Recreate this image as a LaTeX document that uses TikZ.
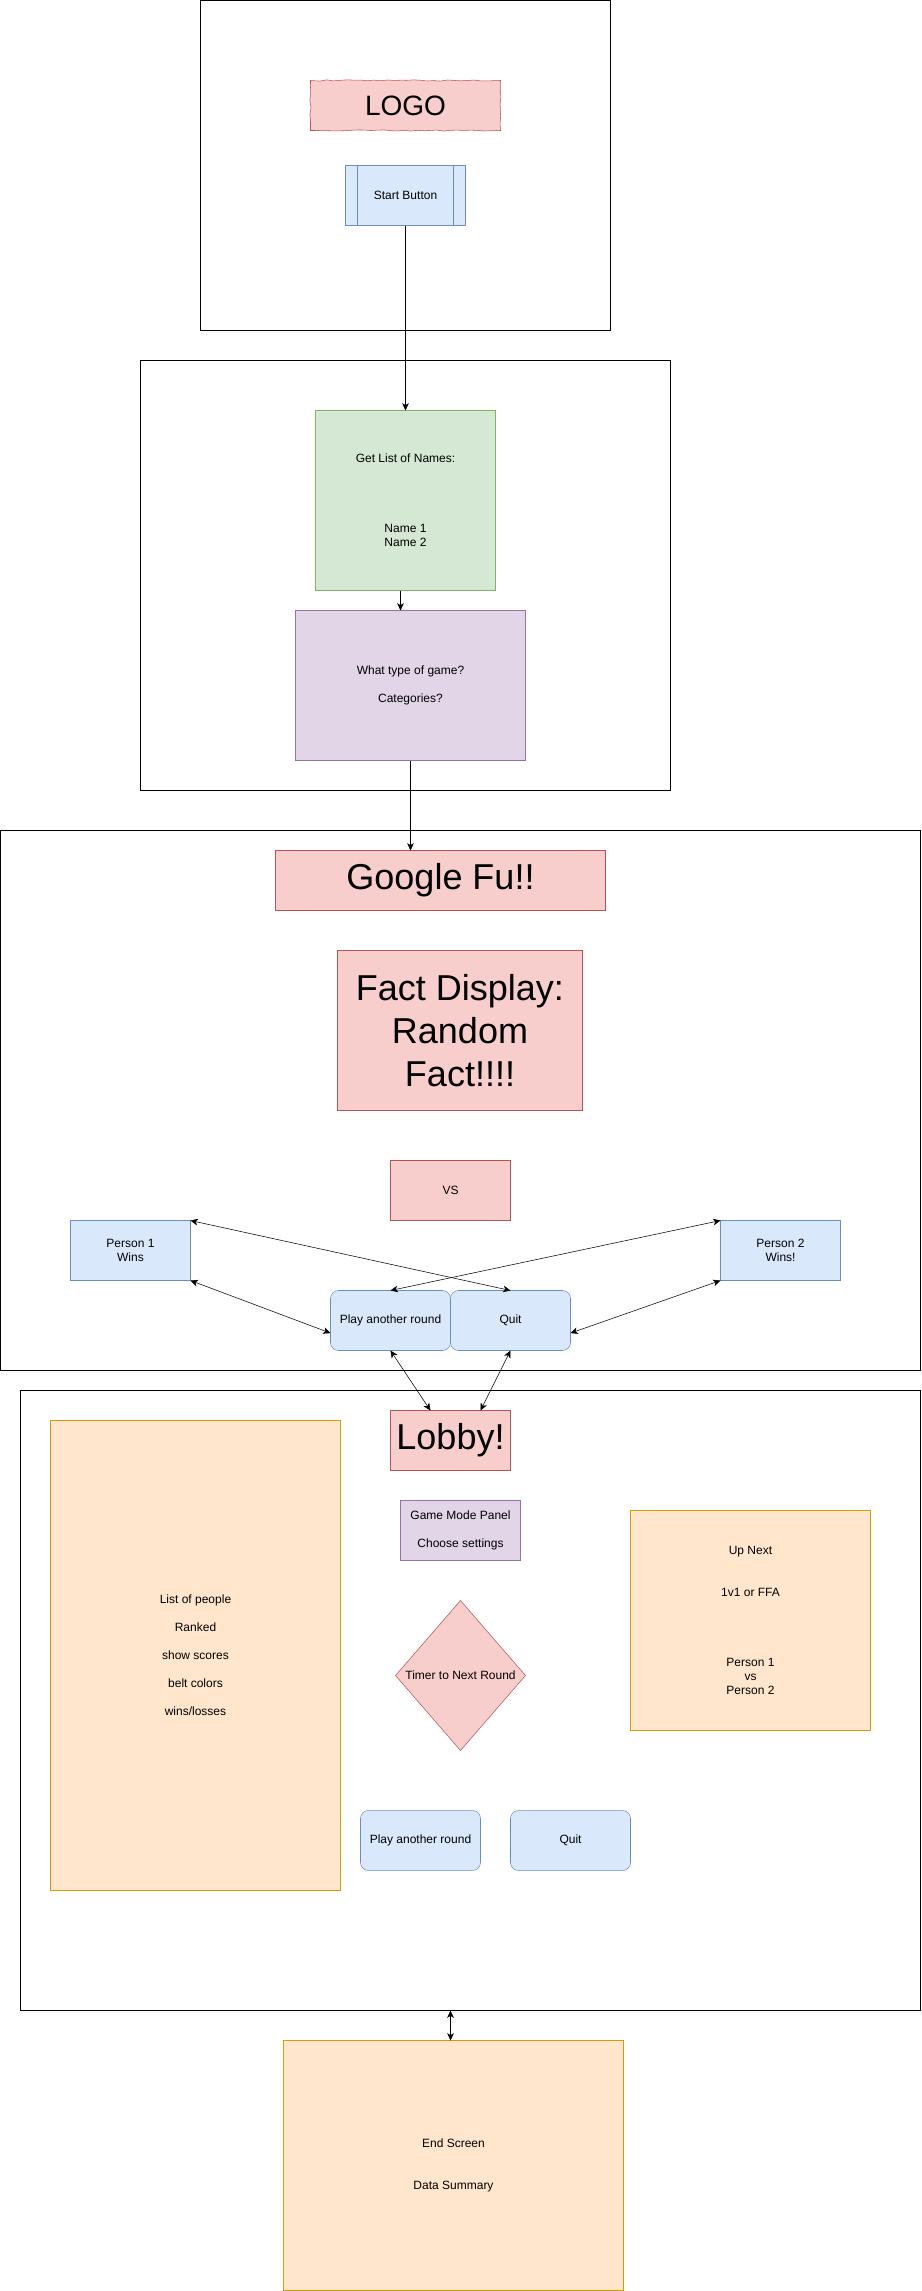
\documentclass[tikz,border=0pt]{standalone}
\usepackage{fontspec}
\setmainfont{Liberation Sans}
\usetikzlibrary{arrows.meta,shapes.geometric,decorations.pathmorphing,calc,positioning}
\definecolor{redfill}{HTML}{F8CECC}
\definecolor{redline}{HTML}{B85450}
\definecolor{bluefill}{HTML}{DAE8FC}
\definecolor{blueline}{HTML}{6C8EBF}
\definecolor{greenfill}{HTML}{D5E8D4}
\definecolor{greenline}{HTML}{82B366}
\definecolor{purplefill}{HTML}{E1D5E7}
\definecolor{purpleline}{HTML}{9673A6}
\definecolor{orangefill}{HTML}{FFE6CC}
\definecolor{orangeline}{HTML}{D79B00}
\tikzset{x=0.75pt, y=-0.75pt, % one unit is one pixel of the mockup, y goes down
>={Stealth[length=5.5pt,width=5pt,inset=1.5pt]}, % draw.io style heads
line width=0.75pt, % thin strokes everywhere
screen/.style={draw, inner sep=0pt, outer sep=0pt}, % the big screen frames
box/.style={draw, inner sep=0pt, outer sep=0pt, align=center, font=\fontsize{9}{10.5}\selectfont}, % every widget
redbox/.style={box, fill=redfill, draw=redline},
bluebox/.style={box, fill=bluefill, draw=blueline},
greenbox/.style={box, fill=greenfill, draw=greenline},
purplebox/.style={box, fill=purplefill, draw=purpleline},
orangebox/.style={box, fill=orangefill, draw=orangeline},
button/.style={bluebox, rounded corners=6pt, minimum width=90pt, minimum height=45pt}, % rounded buttons
small/.style={minimum width=90pt, minimum height=45pt}, % 120x60 widgets
big/.style={font=\fontsize{27}{32.2}\selectfont}, % headline text
sketch/.style={decorate, decoration={random steps, segment length=5pt, amplitude=0.5pt}}, % hand drawn edge
}

\begin{document}
\begin{tikzpicture}
\pgfmathsetseed{11}
\useasboundingbox (0,0) rectangle (921,2291);
% screens
\node[screen, minimum width=307.5pt, minimum height=247.5pt] (title) at (405.5,165.5) {};
\node[screen, minimum width=397.5pt, minimum height=322.5pt] (setup) at (405.5,575.5) {};
\node[screen, minimum width=690pt, minimum height=405pt] (match) at (460.5,1100.5) {};
\node[screen, minimum width=675pt, minimum height=465pt] (lobbyscr) at (470.5,1700.5) {};
% title screen
\node[redbox, sketch, minimum width=142.5pt, minimum height=37.5pt, font=\fontsize{21}{25}\selectfont] (logo) at (405.5,105.5) {LOGO};
\node[bluebox, small] (start) at (405.5,195.5) {Start Button};
\draw[blueline] ([xshift=9pt]start.north west) -- ([xshift=9pt]start.south west)
([xshift=-9pt]start.north east) -- ([xshift=-9pt]start.south east);
% setup screen
\node[greenbox, minimum width=135pt, minimum height=135pt] (names) at (405.5,500.5) {Get List of Names:\\~\\~\\~\\~\\Name 1\\Name 2};
\node[purplebox, minimum width=172.5pt, minimum height=112.5pt] (gametype) at (410.5,685.5) {What type of game?\\~\\Categories?};
% match screen
\node[redbox, big, minimum width=247.5pt, minimum height=45pt] (googlefu) at (440.5,880.5) {Google Fu!!};
\node[redbox, big, minimum width=183.75pt, minimum height=120pt] (fact) at (460,1030.5) {Fact Display:\\Random\\Fact!!!!};
\node[redbox, small] (vs) at (450.5,1190.5) {VS};
\node[bluebox, small] (p1) at (130.5,1250.5) {Person 1\\Wins};
\node[bluebox, small] (p2) at (780.5,1250.5) {Person 2\\Wins!};
\node[button] (play) at (390.5,1320.5) {Play another round};
\node[button, right=0pt of play] (quit) {Quit};
% lobby screen
\node[redbox, big, small] (lobby) at (450.5,1440.5) {Lobby!};
\node[orangebox, minimum width=217.5pt, minimum height=352.5pt] (people) at (195.5,1655.5) {List of people\\~\\Ranked\\~\\show scores\\~\\belt colors\\~\\wins/losses};
\node[purplebox, small] (mode) at (460.5,1530.5) {Game Mode Panel\\~\\Choose settings};
\node[redbox, diamond, minimum width=97.5pt, minimum height=112.5pt] (timer) at (460.5,1675.5) {\makebox[0pt]{Timer to Next Round}};
\node[orangebox, minimum width=180pt, minimum height=165pt] (upnext) at (750.5,1620.5) {Up Next\\~\\~\\1v1 or FFA\\~\\~\\~\\~\\Person 1\\vs\\Person 2};
\node[button] (play2) at (420.5,1840.5) {Play another round};
\node[button] (quit2) at (570.5,1840.5) {Quit};
% end screen
\node[orangebox, minimum width=255pt, minimum height=187.5pt] (endscr) at (453.5,2165.5) {End Screen\\~\\~\\Data Summary};
% flow
\draw[->] (start) -- (names);
\draw[->] ($(names.south)+(-5,0)$) coordinate (n) -- (n |- gametype.north);
\draw[->] (gametype.south) -- (gametype.south |- googlefu.north);
\draw[<->] (p1.north east) -- (quit.north);
\draw[<->] (p2.north west) -- (play.north);
\draw[<->] (p1.south east) -- ($(play.north west)!0.71!(play.south west)$);
\draw[<->] (p2.south west) -- ($(quit.north east)!0.71!(quit.south east)$);
\draw[<->] (play.south) -- ($(lobby.north west)!0.333!(lobby.north east)$);
\draw[<->] (quit.south) -- ($(lobby.north west)!0.75!(lobby.north east)$);
\draw[<->] ($(endscr.north)+(-3,0)$) coordinate (e) -- (e |- lobbyscr.south);
\end{tikzpicture}
\end{document}
